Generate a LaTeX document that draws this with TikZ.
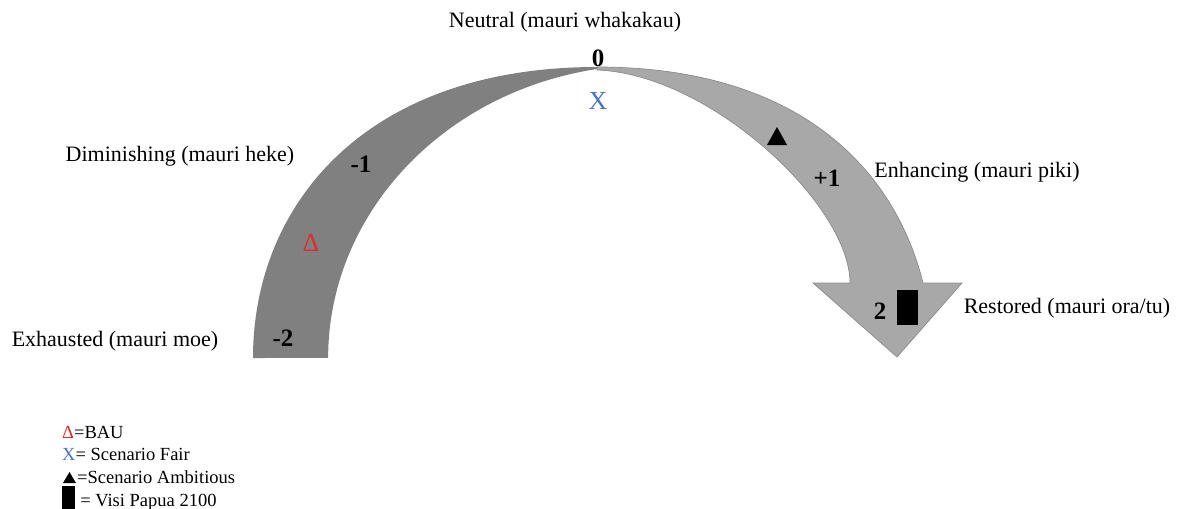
\documentclass[tikz,border=0pt]{standalone}
\usepackage{fontspec}
\setmainfont{Liberation Serif}
\definecolor{darkband}{HTML}{808080}
\definecolor{lightband}{HTML}{A8A8A8}
\definecolor{bandline}{HTML}{8C8C8C}
\definecolor{fairblue}{HTML}{4A72C4}
\definecolor{baured}{HTML}{E32A2A}
\begin{document}
\begin{tikzpicture}[x=1pt,y=-1pt,
  lbl/.style={inner sep=0pt, font=\fontsize{22}{26}\selectfont},
  num/.style={inner sep=0pt, font=\fontsize{25}{30}\selectfont\bfseries},
  mark sym/.style={inner sep=0pt, font=\fontsize{26}{30}\selectfont},
  leg/.style={inner sep=0pt, anchor=base west, font=\fontsize{18.5}{22}\selectfont}]
\useasboundingbox (0,0) rectangle (1179,509);
% left (tail) band
\fill[darkband] (253,358) .. controls (253,205) and (365,67) .. (597,67)
  -- (597,69) arc[start angle=-99.5, end angle=-180, x radius=322, y radius=293]
  -- cycle;
% right band with arrow head
\filldraw[fill=lightband, draw=bandline, line width=0.7pt, line join=miter]
  (597,67) .. controls (800,67) and (895,170) .. (923,283)
  -- (962,283) -- (897,357) -- (813,283) -- (850,283)
  .. controls (850,205) and (710,74) .. (597,70) -- cycle;
% labels
\node[lbl] (neutral) at (565,22) {Neutral (mauri whakakau)};
\node[num] (n0) at (598,58) {0};
\node[mark sym, text=fairblue] (xfair) at (598,101) {X};
\node[lbl] (dimin) at (180,156) {Diminishing (mauri heke)};
\node[num] (nm1) at (361,164) {-1};
\node[mark sym, text=baured] (bau) at (311,243) {Δ};
\node[lbl] (exh) at (115,341) {Exhausted (mauri moe)};
\node[num] (nm2) at (283,338) {-2};
\fill (767,145) -- (787,145) -- (777,127) -- cycle;
\node[num] (np1) at (827,178) {+1};
\node[lbl] (enh) at (977,172) {Enhancing (mauri piki)};
\node[num] (n2) at (880,311) {2};
\fill (897,290) rectangle (918,325);
\node[lbl] (rest) at (1067,308) {Restored (mauri ora/tu)};
% legend
\node[leg] (leg1) at (62,438) {\textcolor{baured}{Δ}=BAU};
\node[leg] (leg2) at (62,460) {\textcolor{fairblue}{X}= Scenario Fair};
\fill (63,483) -- (76,483) -- (69.5,472) -- cycle;
\node[leg] (leg3) at (77,483) {=Scenario Ambitious};
\fill (62,486) rectangle (75,509);
\node[leg] (leg4) at (77,506) {\,= Visi Papua 2100};
\end{tikzpicture}
\end{document}
